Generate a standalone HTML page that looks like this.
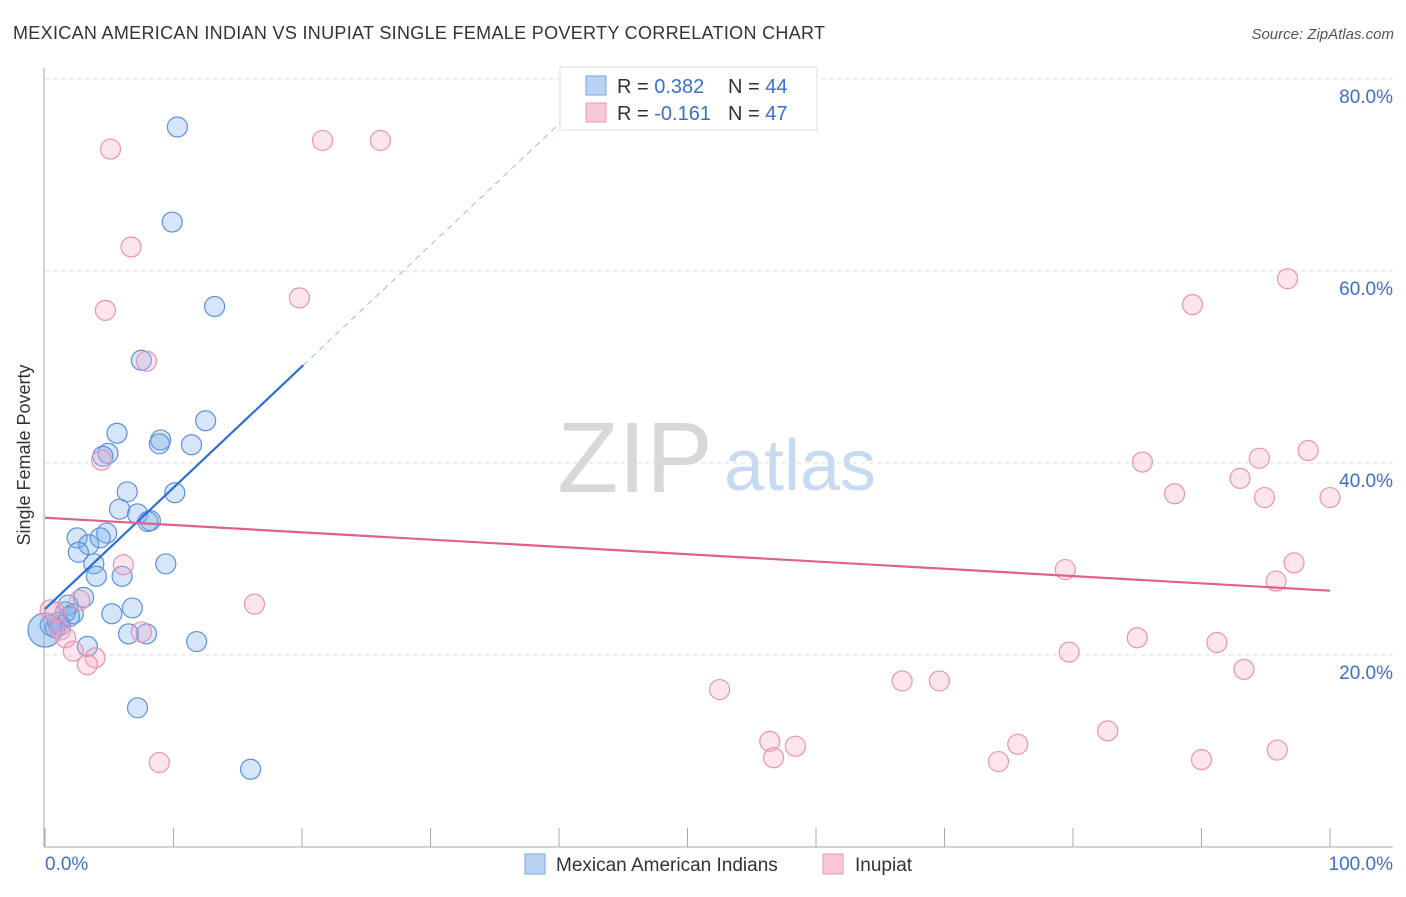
<!DOCTYPE html>
<html><head><meta charset="utf-8"><style>
body{margin:0;background:#fff;font-family:"Liberation Sans",sans-serif;}
svg text{font-family:"Liberation Sans",sans-serif;}
</style></head><body>
<svg id="c" width="1406" height="892">
<text x="13" y="39" font-size="18" fill="#333" textLength="812" lengthAdjust="spacing">MEXICAN AMERICAN INDIAN VS INUPIAT SINGLE FEMALE POVERTY CORRELATION CHART</text>
<text x="1394" y="39" font-size="15" fill="#555" text-anchor="end" font-style="italic">Source: ZipAtlas.com</text>
<text x="30" y="455" font-size="18" fill="#333" text-anchor="middle" transform="rotate(-90 30 455)">Single Female Poverty</text>
<g><text x="635" y="492" font-size="100" fill="#d8d8d8" text-anchor="middle" font-family="Liberation Serif,serif">ZIP</text><text x="800" y="490" font-size="72" fill="#c8daf2" text-anchor="middle">atlas</text></g>
<g id="grid"></g><g id="axes"></g><g id="pts"></g><g id="trend"></g>
<g>
<rect x="560" y="67" width="257" height="63" fill="#fff" stroke="#ddd"/>
<rect x="586" y="76" width="20" height="19" fill="#b9d3f5" stroke="#7aa6e0"/>
<rect x="586" y="103" width="20" height="19" fill="#f8c8d6" stroke="#e899b2"/>
<text x="617" y="93" font-size="20" fill="#333">R = <tspan fill="#3a70cc">0.382</tspan><tspan x="728">N = </tspan><tspan fill="#3a70cc">44</tspan></text>
<text x="617" y="120" font-size="20" fill="#333">R = <tspan fill="#3a70cc">-0.161</tspan><tspan x="728">N = </tspan><tspan fill="#3a70cc">47</tspan></text>
</g>
<g>
<rect x="525" y="854" width="20" height="20" fill="#b9d3f5" stroke="#7aa6e0"/>
<text x="556" y="871" font-size="19" fill="#333">Mexican American Indians</text>
<rect x="823" y="854" width="20" height="20" fill="#f8c8d6" stroke="#e899b2"/>
<text x="855" y="871" font-size="19" fill="#333">Inupiat</text>
</g>
</svg>
<script>
const yTicks=[20,40,60,80];
const yTickLabels=["20.0%","40.0%","60.0%","80.0%"];
const xTicks=[0,10,20,30,40,50,60,70,80,90,100];
const blueX=[10.3,9.9,13.2,7.5,12.5,5.6,9.0,8.9,11.4,4.9,4.5,6.4,10.1,5.8,7.2,8.2,8.0,2.5,4.8,3.4,4.3,2.6,3.8,9.4,4.0,6.0,3.0,1.8,6.8,5.2,2.2,1.6,1.0,0.4,0.8,1.2,6.5,7.9,3.3,11.8,7.2,16.0,0,1.9];
const blueY=[75.0,65.1,56.3,50.7,44.4,43.1,42.4,42.0,41.9,41.0,40.7,37.0,36.9,35.2,34.7,34.0,33.9,32.2,32.7,31.5,32.2,30.7,29.5,29.5,28.2,28.2,26.0,25.2,24.9,24.3,24.3,24.5,23.4,23.1,22.8,23.1,22.2,22.2,20.9,21.4,14.5,8.1,22.6,24.0];
const pinkX=[5.1,21.6,26.1,6.7,4.7,19.8,7.9,4.4,6.1,16.3,2.7,0.4,1.2,1.6,2.2,3.9,3.3,7.5,8.9,52.5,56.4,56.7,58.4,66.7,69.6,74.2,75.7,79.4,79.7,82.7,85.0,85.4,87.9,89.3,90.0,91.2,93.0,93.3,94.5,94.9,95.9,95.8,96.7,97.2,98.3,100,0.8];
const pinkY=[72.7,73.6,73.6,62.5,55.9,57.2,50.6,40.3,29.4,25.3,25.7,24.7,22.6,21.8,20.4,19.7,19.0,22.4,8.8,16.4,11.0,9.3,10.5,17.3,17.3,8.9,10.7,28.9,20.3,12.1,21.8,40.1,36.8,56.5,9.1,21.3,38.4,18.5,40.5,36.4,10.1,27.7,59.2,29.6,41.3,36.4,24.4];
const blueTrend=[24.8,1.263];
const pinkTrend=[34.3,-0.076];
const NS="http://www.w3.org/2000/svg";
const sx=v=>45+v*12.85, sy=v=>847-v*9.6;
function mk(p,t,a){const e=document.createElementNS(NS,t);for(const k in a)e.setAttribute(k,a[k]);document.getElementById(p).appendChild(e);return e;}
yTicks.forEach((t,i)=>{
 const l=mk('grid','line',{x1:45,x2:1393,y1:sy(t),y2:sy(t),stroke:'#ddd','stroke-dasharray':'4,4'});
 
 
 const tx=mk('grid','text',{x:1393,y:sy(t)+24,'font-size':19,fill:'#3a70cc','text-anchor':'end'});
 tx.textContent=yTickLabels[i];
 
 
});
mk('axes','line',{x1:44,x2:44,y1:68,y2:847,stroke:'#aaa'});
mk('axes','line',{x1:44,x2:1393,y1:847,y2:847,stroke:'#aaa'});
xTicks.forEach(t=>{const l=mk('axes','line',{x1:sx(t),x2:sx(t),y1:828,y2:847,stroke:'#aaa'});
 
 });
let a=mk('axes','text',{x:45,y:870,'font-size':19,fill:'#3a70cc'});a.textContent='0.0%';


a=mk('axes','text',{x:1393,y:870,'font-size':19,fill:'#3a70cc','text-anchor':'end'});a.textContent='100.0%';


blueX.forEach((x,i)=>{const c=mk('pts','circle',{cx:sx(x),cy:sy(blueY[i]),r:(i==42?17:10),fill:(i==42?'rgba(120,170,235,0.45)':'rgba(120,170,235,0.3)'),stroke:'#5b91dc','stroke-width':1.2});
 
 });
pinkX.forEach((x,i)=>{const c=mk('pts','circle',{cx:sx(x),cy:sy(pinkY[i]),r:10,fill:'rgba(245,170,195,0.3)',stroke:'#ea92b0','stroke-width':1.2});
 
 });
const bx2=20.1, bxe=(80-blueTrend[0])/blueTrend[1];
let t=mk('trend','line',{x1:sx(0),y1:sy(blueTrend[0]),x2:sx(bx2),y2:sy(blueTrend[0]+blueTrend[1]*bx2),stroke:'#2a6fd6','stroke-width':2.2});


t=mk('trend','line',{x1:sx(bx2),y1:sy(blueTrend[0]+blueTrend[1]*bx2),x2:sx(bxe),y2:sy(80),stroke:'#9bb8e0','stroke-width':1,'stroke-dasharray':'6,5'});


t=mk('trend','line',{x1:sx(0),y1:sy(pinkTrend[0]),x2:sx(100),y2:sy(pinkTrend[0]+pinkTrend[1]*100),stroke:'#e0608e','stroke-width':2.2});


</script>
</body></html>
